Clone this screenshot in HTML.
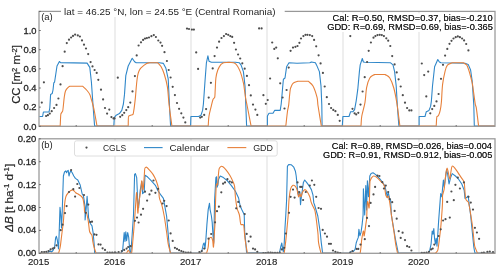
<!DOCTYPE html>
<html><head><meta charset="utf-8"><style>
html,body{margin:0;padding:0;background:#fff;width:500px;height:270px;overflow:hidden}
svg{display:block;will-change:transform}
text{font-family:"Liberation Sans",sans-serif}
</style></head><body>
<svg width="500" height="270" viewBox="0 0 500 270"><rect width="500" height="270" fill="#fff"/><line x1="115.0" y1="11.4" x2="115.0" y2="126.3" stroke="#d9d9d9" stroke-width="0.9"/><line x1="191.0" y1="11.4" x2="191.0" y2="126.3" stroke="#d9d9d9" stroke-width="0.9"/><line x1="267.0" y1="11.4" x2="267.0" y2="126.3" stroke="#d9d9d9" stroke-width="0.9"/><line x1="343.0" y1="11.4" x2="343.0" y2="126.3" stroke="#d9d9d9" stroke-width="0.9"/><line x1="419.0" y1="11.4" x2="419.0" y2="126.3" stroke="#d9d9d9" stroke-width="0.9"/><line x1="115.0" y1="138.8" x2="115.0" y2="253.3" stroke="#d9d9d9" stroke-width="0.9"/><line x1="191.0" y1="138.8" x2="191.0" y2="253.3" stroke="#d9d9d9" stroke-width="0.9"/><line x1="267.0" y1="138.8" x2="267.0" y2="253.3" stroke="#d9d9d9" stroke-width="0.9"/><line x1="343.0" y1="138.8" x2="343.0" y2="253.3" stroke="#d9d9d9" stroke-width="0.9"/><line x1="419.0" y1="138.8" x2="419.0" y2="253.3" stroke="#d9d9d9" stroke-width="0.9"/><defs><clipPath id="ca"><rect x="39.0" y="11.4" width="456.0" height="115.89999999999999"/></clipPath><clipPath id="cb"><rect x="39.0" y="138.8" width="456.0" height="115.5"/></clipPath></defs><g clip-path="url(#ca)" fill="none" stroke-width="1.1" stroke-linejoin="round"><polyline points="39.3,116.5 42.6,116.5 43.4,112.0 49.0,112.0 49.8,108.0 50.6,94.4 52.2,93.6 53.0,90.0 53.8,82.8 54.6,82.0 57.0,66.0 59.4,61.5 60.5,62.6 87.1,63.1 89.8,67.4 91.4,82.0 93.3,109.0 94.6,126.1 113.8,126.1 114.3,117.6 116.2,115.2 119.4,113.6 121.8,110.4 123.4,104.0 124.5,94.4 125.8,75.6 128.2,66.0 132.2,58.3 134.6,61.8 136.2,62.8 159.4,62.8 163.4,63.4 165.8,67.9 168.2,78.8 169.8,112.0 170.6,126.1 190.6,126.1 190.9,116.5 198.6,116.5 201.0,115.2 202.6,110.4 203.4,104.0 204.2,92.8 205.0,81.2 206.4,62.8 207.9,55.9 209.0,61.2 211.4,62.3 235.4,62.3 239.4,62.8 241.0,64.9 243.4,71.6 245.0,86.0 245.8,104.9 246.6,126.1 267.4,126.1 267.4,116.0 269.0,113.3 273.0,113.3 274.6,110.4 280.2,110.4 281.2,104.0 281.8,97.6 282.6,88.0 283.4,79.3 285.0,78.0 286.6,66.8 289.0,62.8 297.0,63.3 309.8,62.8 311.4,62.0 315.4,62.8 316.5,64.9 319.4,71.6 321.0,86.0 321.8,104.9 322.1,126.1 342.3,126.1 342.9,116.5 349.0,116.5 350.6,111.7 353.0,111.7 354.6,109.6 356.2,100.8 357.8,89.2 359.4,71.6 360.2,64.9 362.3,58.5 363.4,62.0 365.0,62.3 390.6,62.8 393.0,64.9 394.6,71.6 396.2,86.0 397.3,104.9 397.8,112.0 398.9,126.1 419.1,126.1 419.1,116.5 425.0,116.5 426.3,111.7 429.0,110.4 430.6,106.4 431.4,100.8 432.5,86.0 434.6,66.8 435.4,64.9 437.8,59.6 439.4,62.0 441.0,62.8 465.0,63.3 468.2,64.4 470.6,70.0 472.2,81.2 473.8,104.9 474.3,126.1 495.0,126.1" stroke="#2f87c9"/><path d="M39.3,126.1 L60.2,126.1 C60.44,122.35 60.52,114.32 61.0,113.6 C61.48,112.88 62.12,111.92 62.6,111.2 C63.08,110.48 63.77,100.60 64.2,97.6 C64.63,94.60 64.83,92.72 65.5,91.0 C66.17,89.28 67.62,87.95 68.2,87.3 C68.78,86.65 69.32,86.53 69.8,86.2 L82.6,86.2 C83.80,87.34 85.40,88.63 86.6,90.0 C87.80,91.37 89.00,92.80 89.8,94.4 C90.60,96.00 90.83,97.67 91.4,99.6 C91.97,101.53 92.68,103.93 93.2,106.0 C93.72,108.07 93.99,109.29 94.5,112.0 C95.01,114.71 96.25,121.87 97.0,126.1 L128.2,126.1 C128.35,123.07 128.13,116.24 128.7,116.0 C129.27,115.76 129.88,115.47 130.6,115.2 C131.32,114.93 132.47,115.20 133.0,114.4 C133.53,113.60 133.56,111.60 133.8,110.4 C134.04,109.20 135.00,101.33 135.4,97.6 C135.80,93.87 135.93,90.93 136.2,88.0 C136.47,85.07 136.73,82.20 137.0,80.0 C137.27,77.80 137.47,76.30 137.8,74.8 C138.13,73.30 138.47,72.15 139.0,71.0 C139.53,69.85 139.83,69.07 141.0,67.9 C142.17,66.73 145.33,64.13 146.6,63.4 C147.87,62.67 148.84,62.98 149.8,62.8 L157.8,62.8 C158.76,63.94 159.93,64.73 161.0,66.6 C162.07,68.47 163.13,70.63 164.2,74.0 C165.27,77.37 166.60,81.80 167.4,86.8 C168.20,91.80 168.25,97.45 169.0,104.0 C169.75,110.55 171.03,119.47 171.9,126.1 L208.2,126.1 C208.44,123.07 208.47,119.42 209.0,116.0 C209.53,112.58 210.73,108.35 211.4,105.6 C212.07,102.85 212.58,100.54 213.0,99.5 C213.42,98.46 214.12,98.17 214.6,97.6 C215.08,97.03 214.98,93.27 215.2,90.0 C215.42,86.73 215.47,81.33 215.9,78.0 C216.33,74.67 216.95,72.27 217.8,70.0 C218.65,67.73 220.20,65.42 221.0,64.4 C221.80,63.38 222.68,63.28 223.4,62.8 L229.0,62.3 C230.92,62.69 233.53,62.05 235.4,63.6 C237.27,65.15 238.87,68.40 240.2,71.6 C241.53,74.80 242.84,80.50 243.4,82.8 C243.96,85.10 243.85,85.66 244.2,88.0 C244.55,90.34 245.27,95.83 245.8,99.0 C246.33,102.17 246.70,103.40 247.4,107.0 C248.10,110.60 249.99,120.37 251.1,126.1 L285.8,126.1 C286.28,121.87 286.96,115.22 287.4,112.0 C287.84,108.78 288.27,108.12 288.7,104.9 C289.13,101.68 289.88,89.41 290.6,88.0 C291.32,86.59 291.80,84.43 293.0,83.3 C294.20,82.17 296.36,81.83 297.8,81.2 L308.2,81.2 C309.64,82.64 311.53,83.33 313.0,86.0 C314.47,88.67 316.21,94.22 317.0,97.2 C317.79,100.18 317.56,101.96 317.8,104.0 C318.04,106.04 320.25,119.47 321.3,126.1 L361.0,126.1 C361.24,123.07 361.13,119.95 361.8,116.0 C362.47,112.05 364.20,107.13 365.0,102.4 C365.80,97.67 365.80,91.67 366.6,87.6 C367.40,83.53 368.47,80.18 369.8,78.0 C371.13,75.82 373.16,75.55 374.6,74.5 L385.0,74.5 C386.44,75.55 388.34,75.76 389.8,78.0 C391.26,80.24 392.60,83.67 393.8,88.0 C395.00,92.33 395.98,97.65 397.0,104.0 C398.02,110.35 399.03,119.47 399.9,126.1 L436.2,126.1 C436.44,123.22 436.52,116.89 437.0,116.5 C437.48,116.11 438.17,116.02 438.6,115.2 C439.03,114.38 439.73,112.60 440.2,110.4 C440.67,108.20 441.05,105.80 441.4,102.0 C441.75,98.20 442.00,89.47 442.6,84.4 C443.20,79.33 444.25,74.58 445.0,71.6 C445.75,68.62 446.20,66.67 447.4,65.2 C448.60,63.73 450.76,63.52 452.2,62.8 L463.4,62.8 C464.36,63.43 465.80,63.97 466.6,64.9 C467.40,65.83 467.72,67.35 468.2,68.4 C468.68,69.45 471.64,80.50 472.2,82.8 C472.76,85.10 472.76,86.44 473.0,88.0 C473.24,89.56 475.16,104.21 475.4,104.9 C475.64,105.59 475.96,106.51 476.2,107.2 C476.44,107.89 477.88,120.43 478.6,126.1 L495.0,126.1" stroke="#e7803a"/></g><g fill="#4d4d4d"><circle cx="41.8" cy="102.6" r="1.1"/><circle cx="43.9" cy="82.3" r="1.1"/><circle cx="46.1" cy="116.0" r="1.1"/><circle cx="47.9" cy="115.2" r="1.1"/><circle cx="49.8" cy="113.6" r="1.1"/><circle cx="51.7" cy="111.2" r="1.1"/><circle cx="54.1" cy="108.0" r="1.1"/><circle cx="56.5" cy="104.9" r="1.1"/><circle cx="58.4" cy="98.5" r="1.1"/><circle cx="60.5" cy="84.4" r="1.1"/><circle cx="62.6" cy="66.2" r="1.1"/><circle cx="64.7" cy="51.7" r="1.1"/><circle cx="66.8" cy="43.1" r="1.1"/><circle cx="69.0" cy="39.7" r="1.1"/><circle cx="71.1" cy="37.5" r="1.1"/><circle cx="73.0" cy="35.9" r="1.1"/><circle cx="75.1" cy="34.6" r="1.1"/><circle cx="77.8" cy="35.4" r="1.1"/><circle cx="79.9" cy="36.5" r="1.1"/><circle cx="82.0" cy="40.4" r="1.1"/><circle cx="84.0" cy="44.7" r="1.1"/><circle cx="86.0" cy="48.5" r="1.1"/><circle cx="88.2" cy="54.1" r="1.1"/><circle cx="90.6" cy="62.1" r="1.1"/><circle cx="92.5" cy="66.4" r="1.1"/><circle cx="94.6" cy="70.0" r="1.1"/><circle cx="96.7" cy="72.9" r="1.1"/><circle cx="98.3" cy="79.8" r="1.1"/><circle cx="101.0" cy="89.7" r="1.1"/><circle cx="103.1" cy="99.4" r="1.1"/><circle cx="105.0" cy="108.0" r="1.1"/><circle cx="107.1" cy="113.6" r="1.1"/><circle cx="109.3" cy="109.6" r="1.1"/><circle cx="111.4" cy="117.1" r="1.1"/><circle cx="113.5" cy="118.4" r="1.1"/><circle cx="114.6" cy="118.4" r="1.1"/><circle cx="117.8" cy="77.7" r="1.1"/><circle cx="120.2" cy="116.8" r="1.1"/><circle cx="122.3" cy="115.2" r="1.1"/><circle cx="124.2" cy="112.8" r="1.1"/><circle cx="126.3" cy="110.1" r="1.1"/><circle cx="128.2" cy="107.2" r="1.1"/><circle cx="130.3" cy="102.6" r="1.1"/><circle cx="132.5" cy="91.4" r="1.1"/><circle cx="134.9" cy="76.1" r="1.1"/><circle cx="136.7" cy="55.4" r="1.1"/><circle cx="138.6" cy="45.5" r="1.1"/><circle cx="141.0" cy="42.3" r="1.1"/><circle cx="143.1" cy="39.9" r="1.1"/><circle cx="145.0" cy="38.6" r="1.1"/><circle cx="146.9" cy="38.1" r="1.1"/><circle cx="149.0" cy="37.5" r="1.1"/><circle cx="151.4" cy="36.2" r="1.1"/><circle cx="153.8" cy="35.1" r="1.1"/><circle cx="155.9" cy="37.0" r="1.1"/><circle cx="158.3" cy="40.5" r="1.1"/><circle cx="160.5" cy="42.6" r="1.1"/><circle cx="162.1" cy="45.8" r="1.1"/><circle cx="164.5" cy="52.2" r="1.1"/><circle cx="166.9" cy="61.0" r="1.1"/><circle cx="168.7" cy="70.0" r="1.1"/><circle cx="170.6" cy="77.5" r="1.1"/><circle cx="172.7" cy="86.8" r="1.1"/><circle cx="174.9" cy="95.1" r="1.1"/><circle cx="177.0" cy="103.0" r="1.1"/><circle cx="179.1" cy="108.8" r="1.1"/><circle cx="181.3" cy="113.3" r="1.1"/><circle cx="183.4" cy="117.6" r="1.1"/><circle cx="185.3" cy="122.4" r="1.1"/><circle cx="187.0" cy="28.6" r="1.1"/><circle cx="189.0" cy="29.0" r="1.1"/><circle cx="191.9" cy="29.6" r="1.1"/><circle cx="193.9" cy="29.6" r="1.1"/><circle cx="196.2" cy="52.4" r="1.1"/><circle cx="198.1" cy="68.9" r="1.1"/><circle cx="200.2" cy="117.6" r="1.1"/><circle cx="201.8" cy="116.8" r="1.1"/><circle cx="204.2" cy="114.9" r="1.1"/><circle cx="206.1" cy="109.1" r="1.1"/><circle cx="208.7" cy="97.6" r="1.1"/><circle cx="210.9" cy="82.8" r="1.1"/><circle cx="212.7" cy="68.4" r="1.1"/><circle cx="214.6" cy="56.1" r="1.1"/><circle cx="217.0" cy="47.6" r="1.1"/><circle cx="219.1" cy="41.7" r="1.1"/><circle cx="221.5" cy="38.0" r="1.1"/><circle cx="223.9" cy="36.1" r="1.1"/><circle cx="226.1" cy="34.0" r="1.1"/><circle cx="228.2" cy="34.8" r="1.1"/><circle cx="230.3" cy="36.1" r="1.1"/><circle cx="232.2" cy="36.9" r="1.1"/><circle cx="234.1" cy="42.8" r="1.1"/><circle cx="235.9" cy="49.5" r="1.1"/><circle cx="238.1" cy="54.5" r="1.1"/><circle cx="240.2" cy="58.5" r="1.1"/><circle cx="242.3" cy="63.3" r="1.1"/><circle cx="244.7" cy="68.7" r="1.1"/><circle cx="246.9" cy="75.9" r="1.1"/><circle cx="249.0" cy="85.2" r="1.1"/><circle cx="250.8" cy="95.4" r="1.1"/><circle cx="253.0" cy="104.6" r="1.1"/><circle cx="255.4" cy="109.6" r="1.1"/><circle cx="257.3" cy="114.9" r="1.1"/><circle cx="259.1" cy="28.4" r="1.1"/><circle cx="261.6" cy="28.4" r="1.1"/><circle cx="263.4" cy="95.2" r="1.1"/><circle cx="265.8" cy="103.8" r="1.1"/><circle cx="267.7" cy="100.0" r="1.1"/><circle cx="270.1" cy="78.5" r="1.1"/><circle cx="272.2" cy="42.5" r="1.1"/><circle cx="274.3" cy="48.9" r="1.1"/><circle cx="276.2" cy="47.6" r="1.1"/><circle cx="277.8" cy="58.3" r="1.1"/><circle cx="280.2" cy="83.3" r="1.1"/><circle cx="282.6" cy="97.5" r="1.1"/><circle cx="284.5" cy="108.5" r="1.1"/><circle cx="286.6" cy="90.0" r="1.1"/><circle cx="288.7" cy="67.6" r="1.1"/><circle cx="290.6" cy="50.8" r="1.1"/><circle cx="293.0" cy="47.6" r="1.1"/><circle cx="295.4" cy="46.8" r="1.1"/><circle cx="297.5" cy="46.0" r="1.1"/><circle cx="299.4" cy="42.8" r="1.1"/><circle cx="301.0" cy="38.5" r="1.1"/><circle cx="303.4" cy="36.1" r="1.1"/><circle cx="305.5" cy="34.8" r="1.1"/><circle cx="307.4" cy="34.8" r="1.1"/><circle cx="309.8" cy="35.1" r="1.1"/><circle cx="312.2" cy="36.1" r="1.1"/><circle cx="314.1" cy="39.9" r="1.1"/><circle cx="316.2" cy="46.3" r="1.1"/><circle cx="318.6" cy="55.3" r="1.1"/><circle cx="320.6" cy="63.4" r="1.1"/><circle cx="322.9" cy="72.9" r="1.1"/><circle cx="324.7" cy="86.5" r="1.1"/><circle cx="326.8" cy="97.2" r="1.1"/><circle cx="329.0" cy="104.0" r="1.1"/><circle cx="331.1" cy="108.0" r="1.1"/><circle cx="333.3" cy="109.9" r="1.1"/><circle cx="335.4" cy="111.2" r="1.1"/><circle cx="337.8" cy="114.9" r="1.1"/><circle cx="339.7" cy="120.8" r="1.1"/><circle cx="350.3" cy="36.1" r="1.1"/><circle cx="352.5" cy="108.8" r="1.1"/><circle cx="354.6" cy="113.3" r="1.1"/><circle cx="356.2" cy="114.4" r="1.1"/><circle cx="358.3" cy="112.8" r="1.1"/><circle cx="360.5" cy="104.6" r="1.1"/><circle cx="362.6" cy="91.5" r="1.1"/><circle cx="364.7" cy="77.2" r="1.1"/><circle cx="367.1" cy="62.0" r="1.1"/><circle cx="368.7" cy="50.8" r="1.1"/><circle cx="370.9" cy="42.5" r="1.1"/><circle cx="373.5" cy="37.7" r="1.1"/><circle cx="375.4" cy="36.1" r="1.1"/><circle cx="377.5" cy="35.1" r="1.1"/><circle cx="379.7" cy="34.8" r="1.1"/><circle cx="381.8" cy="35.1" r="1.1"/><circle cx="383.9" cy="36.1" r="1.1"/><circle cx="386.3" cy="38.3" r="1.1"/><circle cx="388.2" cy="40.7" r="1.1"/><circle cx="390.3" cy="46.0" r="1.1"/><circle cx="392.2" cy="56.1" r="1.1"/><circle cx="394.6" cy="64.4" r="1.1"/><circle cx="396.7" cy="72.4" r="1.1"/><circle cx="398.6" cy="79.3" r="1.1"/><circle cx="400.7" cy="86.5" r="1.1"/><circle cx="402.8" cy="95.2" r="1.1"/><circle cx="405.0" cy="102.7" r="1.1"/><circle cx="407.1" cy="108.0" r="1.1"/><circle cx="409.3" cy="110.4" r="1.1"/><circle cx="411.4" cy="110.4" r="1.1"/><circle cx="421.8" cy="63.5" r="1.1"/><circle cx="424.2" cy="75.1" r="1.1"/><circle cx="426.3" cy="96.4" r="1.1"/><circle cx="428.2" cy="71.6" r="1.1"/><circle cx="430.3" cy="113.3" r="1.1"/><circle cx="432.2" cy="109.1" r="1.1"/><circle cx="434.3" cy="105.9" r="1.1"/><circle cx="436.5" cy="101.4" r="1.1"/><circle cx="438.6" cy="94.0" r="1.1"/><circle cx="441.0" cy="78.8" r="1.1"/><circle cx="443.0" cy="64.8" r="1.1"/><circle cx="445.1" cy="55.6" r="1.1"/><circle cx="447.3" cy="48.9" r="1.1"/><circle cx="449.5" cy="43.8" r="1.1"/><circle cx="451.5" cy="40.8" r="1.1"/><circle cx="453.5" cy="38.5" r="1.1"/><circle cx="455.7" cy="37.2" r="1.1"/><circle cx="457.8" cy="36.4" r="1.1"/><circle cx="459.9" cy="37.2" r="1.1"/><circle cx="462.1" cy="38.5" r="1.1"/><circle cx="464.1" cy="40.4" r="1.1"/><circle cx="466.2" cy="44.0" r="1.1"/><circle cx="468.4" cy="50.4" r="1.1"/></g><g clip-path="url(#cb)" fill="none" stroke-width="1.1" stroke-linejoin="round"><polyline points="39.3,253.3 47.5,253.0 49.8,251.0 51.5,252.0 53.0,250.5 54.6,247.0 55.6,238.0 56.4,236.3 57.3,240.0 58.5,249.0 59.2,232.0 60.0,207.3 60.8,215.0 61.5,228.0 62.2,212.0 62.6,200.0 63.4,176.0 64.5,172.0 65.8,170.9 66.6,172.8 67.4,170.9 68.2,170.4 69.0,176.0 69.8,172.8 70.9,170.9 72.2,172.8 73.8,176.0 75.4,178.4 77.8,180.0 80.2,185.0 82.2,194.0 83.4,195.6 84.3,201.3 85.1,207.0 85.1,220.0 85.9,211.5 86.3,207.0 87.1,196.4 87.9,207.0 88.6,218.0 90.4,223.7 92.0,225.8 93.2,233.1 93.6,238.0 94.4,247.0 94.6,253.1 121.0,253.1 122.6,251.0 124.2,232.6 125.0,241.4 125.8,231.8 126.6,240.6 127.7,232.6 128.7,237.4 129.8,251.0 130.8,253.0 132.2,234.2 133.5,215.0 134.6,174.4 135.4,173.6 136.7,177.6 137.8,202.9 138.6,208.0 140.2,190.4 141.8,181.6 142.6,193.6 144.2,192.0 145.0,175.2 147.4,176.8 151.4,180.8 155.4,185.3 157.8,190.4 161.0,195.2 163.4,198.4 164.2,202.9 166.6,216.0 169.0,242.9 170.3,253.1 200.2,253.1 201.8,251.0 203.4,243.8 204.2,243.0 205.0,248.6 205.8,240.6 206.9,224.6 208.2,209.6 209.5,203.2 210.1,209.6 211.4,216.0 212.2,222.4 213.0,235.2 213.8,242.9 214.6,200.0 215.9,177.6 216.5,176.8 217.0,187.2 217.8,185.6 218.6,179.2 220.2,176.0 223.4,177.6 227.4,180.8 231.4,185.6 235.4,191.2 238.6,198.0 240.2,206.0 242.0,210.0 244.2,214.4 244.7,232.0 245.8,242.9 246.6,252.6 279.4,253.1 280.7,247.0 281.8,243.0 282.6,248.6 283.4,251.8 284.2,243.8 285.0,227.8 285.8,215.0 286.6,200.0 287.4,166.4 288.7,164.5 291.4,164.8 293.8,167.2 295.4,171.2 296.2,176.0 297.0,184.0 297.8,192.8 298.6,195.2 299.9,192.0 300.5,204.8 301.0,200.0 302.1,192.0 303.4,182.4 304.7,180.0 306.6,182.4 309.0,185.6 311.4,189.6 313.0,195.2 313.8,202.9 314.6,205.0 317.8,216.0 320.2,232.0 321.3,242.9 322.6,253.1 349.0,253.1 350.6,251.8 353.0,251.8 355.1,249.4 356.2,243.0 357.0,240.6 358.3,237.4 358.9,229.4 359.9,235.8 361.0,232.6 362.1,224.6 363.1,215.0 363.4,188.8 364.7,215.0 365.8,185.6 366.6,210.0 367.4,180.8 368.5,196.6 369.8,176.0 371.1,173.6 373.0,172.8 375.4,174.4 379.4,178.4 382.6,182.4 385.0,186.4 386.6,193.6 387.4,197.6 388.2,192.0 389.8,199.2 390.6,200.0 391.4,215.0 395.4,239.0 398.3,253.1 428.2,253.1 429.8,250.2 431.1,243.8 432.2,231.0 433.0,234.2 433.8,228.6 434.6,239.0 435.4,243.8 436.2,238.2 437.0,246.2 437.8,234.2 438.6,221.4 440.2,200.0 440.7,193.6 441.8,196.8 442.6,188.0 443.4,180.0 444.2,187.2 445.5,177.6 446.6,169.6 447.7,174.4 449.0,184.0 450.6,177.6 452.2,173.6 455.4,176.0 458.6,179.2 461.8,184.0 464.2,190.4 465.0,198.4 466.6,197.6 468.2,196.0 469.0,202.9 470.6,215.0 473.8,247.0 474.9,253.1 495.0,253.1" stroke="#2f87c9"/><path d="M39.3,253.3 L58.6,253.3 C59.08,251.41 59.72,249.88 60.2,247.0 C60.68,244.12 61.27,238.47 61.8,234.2 C62.33,229.93 62.95,226.27 63.4,221.4 C63.85,216.53 64.14,208.72 64.5,205.0 C64.86,201.28 65.19,198.81 65.8,196.8 C66.41,194.79 67.54,193.70 68.2,192.8 C68.86,191.90 69.22,191.58 70.0,191.1 C70.78,190.62 71.95,189.63 72.9,189.9 C73.85,190.17 74.83,192.02 75.7,192.7 C76.57,193.38 77.15,193.38 78.1,194.0 C79.05,194.62 80.58,195.58 81.4,196.4 C82.22,197.22 82.65,197.61 83.0,198.9 C83.35,200.19 84.02,204.77 84.3,207.0 C84.58,209.23 84.22,212.30 84.7,212.3 C85.18,212.30 85.82,212.30 86.3,212.3 C86.78,212.30 87.75,218.10 88.3,221.3 C88.85,224.50 89.06,229.43 89.6,231.5 C90.14,233.57 91.47,233.97 92.0,235.6 C92.53,237.23 92.47,239.40 92.8,241.3 C93.13,243.20 93.43,245.00 94.0,247.0 C94.57,249.00 95.54,251.41 96.2,253.3 L126.6,253.3 C127.08,252.37 127.67,250.32 128.2,250.2 C128.73,250.08 129.27,252.08 129.8,252.6 C130.33,253.12 130.92,253.09 131.4,253.3 C131.88,253.51 132.47,244.58 133.0,239.0 C133.53,233.42 134.17,225.47 134.6,219.8 C135.03,214.13 135.25,209.50 135.6,205.0 C135.95,200.50 136.33,191.50 136.7,192.8 C137.07,194.10 137.48,210.80 137.8,212.8 C138.12,214.80 138.23,207.77 138.6,204.8 C138.97,201.83 139.60,197.67 140.0,195.0 C140.40,192.33 140.70,191.17 141.0,188.8 C141.30,186.43 141.45,180.67 141.8,180.8 C142.15,180.93 142.70,190.27 143.1,189.6 C143.50,188.93 143.88,180.40 144.2,176.8 C144.52,173.20 144.52,168.24 145.0,168.0 C145.48,167.76 145.93,166.93 146.6,167.2 C147.27,167.47 147.99,168.46 149.0,169.6 C150.01,170.74 151.80,172.53 153.0,174.4 C154.20,176.27 155.27,178.40 156.2,180.8 C157.13,183.20 158.07,185.93 158.6,188.8 C159.13,191.67 158.87,195.33 159.4,198.0 C159.93,200.67 161.00,201.80 161.8,204.8 C162.60,207.80 163.40,211.47 164.2,216.0 C165.00,220.53 165.93,227.37 166.6,232.0 C167.27,236.63 167.53,240.25 168.2,243.8 C168.87,247.35 169.88,250.45 170.6,253.3 L206.6,253.3 C207.08,251.41 207.80,249.38 208.2,247.0 C208.60,244.62 208.59,240.23 209.0,239.0 C209.41,237.77 210.78,237.13 211.4,237.4 C212.02,237.67 212.37,239.08 212.7,240.6 C213.03,242.12 213.23,248.07 213.5,247.0 C213.77,245.93 214.03,238.47 214.3,234.2 C214.57,229.93 214.88,227.10 215.1,221.4 C215.32,215.70 215.37,206.23 215.6,200.0 C215.83,193.77 216.20,183.76 216.5,184.0 C216.80,184.24 217.20,184.56 217.5,184.8 C217.80,185.04 218.03,178.67 218.3,176.0 C218.57,173.33 218.73,170.13 219.1,168.8 C219.47,167.47 220.37,166.75 221.0,166.4 C221.63,166.05 222.18,166.22 222.9,166.7 C223.62,167.18 224.65,168.18 225.8,169.6 C226.95,171.02 228.60,173.20 229.8,175.2 C231.00,177.20 232.20,179.73 233.0,181.6 C233.80,183.47 234.24,184.15 234.6,186.4 C234.96,188.65 235.00,193.20 235.4,196.8 C235.80,200.40 236.33,204.97 237.0,208.0 C237.67,211.03 238.73,212.23 239.4,215.0 C240.07,217.77 240.28,224.60 241.0,224.6 C241.72,224.60 242.68,224.60 243.4,224.6 C244.12,224.60 244.33,234.22 245.0,239.0 C245.67,243.78 246.68,249.01 247.4,253.3 L284.2,253.3 C284.68,249.49 285.27,245.48 285.8,240.6 C286.33,235.72 287.02,228.05 287.4,224.0 C287.78,219.95 287.93,219.00 288.2,215.0 C288.47,211.00 288.60,204.37 289.0,200.0 C289.40,195.63 290.10,190.64 290.6,188.8 C291.10,186.96 292.20,185.70 293.0,185.3 C293.80,184.90 294.73,185.68 295.4,186.4 C296.07,187.12 296.53,188.06 297.0,189.6 C297.47,191.14 298.12,196.13 298.6,196.8 C299.08,197.47 299.50,193.60 299.9,193.6 C300.30,193.60 300.55,197.07 301.0,196.8 C301.45,196.53 301.93,193.20 302.6,192.0 C303.27,190.80 304.20,189.60 305.0,189.6 C305.80,189.60 306.60,190.80 307.4,192.0 C308.20,193.20 309.13,194.98 309.8,196.8 C310.47,198.62 310.60,200.77 311.4,202.9 C312.20,205.03 313.64,207.59 314.6,209.6 C315.56,211.61 317.21,227.12 317.8,232.0 C318.39,236.88 318.07,239.35 318.6,242.9 C319.13,246.45 320.28,250.18 321.0,253.3 L360.2,253.3 C360.44,251.41 360.73,249.38 361.0,247.0 C361.27,244.62 361.40,241.67 361.8,239.0 C362.20,236.33 363.00,231.53 363.4,231.0 C363.80,230.47 363.80,236.87 364.2,235.8 C364.60,234.73 365.45,227.03 365.8,224.6 C366.15,222.17 366.36,220.82 366.6,219.2 C366.84,217.58 367.00,203.87 367.4,202.0 C367.80,200.13 368.52,206.20 369.0,208.0 C369.48,209.80 369.62,181.76 370.1,180.8 C370.58,179.84 371.08,178.40 371.7,177.6 C372.32,176.80 372.92,176.00 373.8,176.0 C374.68,176.00 375.80,176.67 377.0,177.6 C378.20,178.53 379.80,180.27 381.0,181.6 C382.20,182.93 383.43,183.43 384.2,185.6 C384.97,187.77 385.41,194.48 385.8,195.2 C386.19,195.92 386.70,197.47 387.1,197.6 C387.50,197.73 387.87,196.48 388.2,196.0 C388.53,195.52 389.27,199.76 389.8,202.9 C390.33,206.04 390.70,210.15 391.4,215.0 C392.10,219.85 393.27,227.00 394.0,232.0 C394.73,237.00 395.20,241.45 395.8,245.0 C396.40,248.55 397.06,250.81 397.6,253.3 L435.4,253.3 C436.12,252.37 437.32,251.90 437.8,250.2 C438.28,248.50 438.87,243.27 439.4,239.0 C439.93,234.73 440.47,231.10 441.0,224.6 C441.53,218.10 442.60,201.44 442.6,200.0 C442.60,198.56 442.33,197.07 442.6,195.2 C442.87,193.33 443.76,191.74 444.2,188.8 C444.64,185.86 445.80,173.20 446.1,172.0 C446.40,170.80 446.75,168.00 447.1,168.0 C447.45,168.00 447.76,170.19 448.2,172.0 C448.64,173.81 449.35,179.20 449.8,179.2 C450.25,179.20 450.50,174.18 450.9,172.0 C451.30,169.82 451.45,166.63 452.2,166.1 C452.95,165.57 454.33,167.55 455.4,168.8 C456.47,170.05 457.53,172.00 458.6,173.6 C459.67,175.20 460.87,176.93 461.8,178.4 C462.73,179.87 463.72,180.36 464.2,182.4 C464.68,184.44 464.73,189.20 465.0,192.0 C465.27,194.80 465.29,197.62 465.8,199.2 C466.31,200.78 467.48,201.16 468.2,202.0 C468.92,202.84 471.08,216.50 472.2,224.0 C473.32,231.50 474.12,245.11 474.9,247.0 C475.68,248.89 476.72,251.41 477.5,253.3 L495.0,253.3" stroke="#e7803a"/></g><g fill="#4d4d4d"><circle cx="41.8" cy="252.1" r="1.1"/><circle cx="44.2" cy="252.1" r="1.1"/><circle cx="46.3" cy="251.8" r="1.1"/><circle cx="48.5" cy="251.0" r="1.1"/><circle cx="50.6" cy="249.4" r="1.1"/><circle cx="52.7" cy="248.6" r="1.1"/><circle cx="54.3" cy="247.8" r="1.1"/><circle cx="56.5" cy="245.4" r="1.1"/><circle cx="60.7" cy="230.2" r="1.1"/><circle cx="62.6" cy="224.7" r="1.1"/><circle cx="65.0" cy="213.1" r="1.1"/><circle cx="66.6" cy="206.1" r="1.1"/><circle cx="69.0" cy="192.0" r="1.1"/><circle cx="71.1" cy="170.1" r="1.1"/><circle cx="73.3" cy="189.2" r="1.1"/><circle cx="75.1" cy="196.6" r="1.1"/><circle cx="77.3" cy="184.0" r="1.1"/><circle cx="79.4" cy="188.0" r="1.1"/><circle cx="84.0" cy="195.0" r="1.1"/><circle cx="88.3" cy="204.6" r="1.1"/><circle cx="85.8" cy="212.8" r="1.1"/><circle cx="90.4" cy="222.1" r="1.1"/><circle cx="92.0" cy="221.7" r="1.1"/><circle cx="94.4" cy="234.4" r="1.1"/><circle cx="96.5" cy="234.8" r="1.1"/><circle cx="98.5" cy="244.4" r="1.1"/><circle cx="100.6" cy="244.6" r="1.1"/><circle cx="102.6" cy="248.3" r="1.1"/><circle cx="105.0" cy="249.9" r="1.1"/><circle cx="107.4" cy="252.6" r="1.1"/><circle cx="109.8" cy="252.6" r="1.1"/><circle cx="112.2" cy="252.6" r="1.1"/><circle cx="114.6" cy="252.6" r="1.1"/><circle cx="115.4" cy="252.6" r="1.1"/><circle cx="118.6" cy="252.1" r="1.1"/><circle cx="121.8" cy="251.0" r="1.1"/><circle cx="124.2" cy="249.9" r="1.1"/><circle cx="126.6" cy="248.6" r="1.1"/><circle cx="128.2" cy="247.0" r="1.1"/><circle cx="130.6" cy="246.2" r="1.1"/><circle cx="134.9" cy="220.8" r="1.1"/><circle cx="137.0" cy="217.6" r="1.1"/><circle cx="138.6" cy="222.5" r="1.1"/><circle cx="141.0" cy="214.7" r="1.1"/><circle cx="143.1" cy="208.8" r="1.1"/><circle cx="145.0" cy="191.7" r="1.1"/><circle cx="147.1" cy="200.6" r="1.1"/><circle cx="149.5" cy="194.4" r="1.1"/><circle cx="151.4" cy="190.7" r="1.1"/><circle cx="153.5" cy="180.5" r="1.1"/><circle cx="155.4" cy="192.8" r="1.1"/><circle cx="158.1" cy="188.8" r="1.1"/><circle cx="162.6" cy="203.5" r="1.1"/><circle cx="164.2" cy="200.8" r="1.1"/><circle cx="166.6" cy="206.1" r="1.1"/><circle cx="168.7" cy="220.5" r="1.1"/><circle cx="170.6" cy="233.4" r="1.1"/><circle cx="172.7" cy="240.9" r="1.1"/><circle cx="174.9" cy="247.8" r="1.1"/><circle cx="177.0" cy="248.9" r="1.1"/><circle cx="179.1" cy="250.2" r="1.1"/><circle cx="181.3" cy="251.0" r="1.1"/><circle cx="183.4" cy="251.8" r="1.1"/><circle cx="185.8" cy="252.6" r="1.1"/><circle cx="188.2" cy="252.6" r="1.1"/><circle cx="190.6" cy="252.6" r="1.1"/><circle cx="199.4" cy="252.1" r="1.1"/><circle cx="201.8" cy="251.0" r="1.1"/><circle cx="204.2" cy="248.6" r="1.1"/><circle cx="208.5" cy="238.7" r="1.1"/><circle cx="211.2" cy="234.0" r="1.1"/><circle cx="215.0" cy="222.3" r="1.1"/><circle cx="217.0" cy="211.2" r="1.1"/><circle cx="218.9" cy="206.7" r="1.1"/><circle cx="221.3" cy="192.3" r="1.1"/><circle cx="223.1" cy="183.7" r="1.1"/><circle cx="225.0" cy="182.4" r="1.1"/><circle cx="227.4" cy="179.2" r="1.1"/><circle cx="229.8" cy="181.6" r="1.1"/><circle cx="231.9" cy="182.4" r="1.1"/><circle cx="236.2" cy="208.3" r="1.1"/><circle cx="238.3" cy="201.9" r="1.1"/><circle cx="240.2" cy="206.4" r="1.1"/><circle cx="244.7" cy="214.1" r="1.1"/><circle cx="246.7" cy="233.9" r="1.1"/><circle cx="248.7" cy="241.3" r="1.1"/><circle cx="250.6" cy="236.7" r="1.1"/><circle cx="253.0" cy="248.6" r="1.1"/><circle cx="255.1" cy="249.4" r="1.1"/><circle cx="257.3" cy="251.8" r="1.1"/><circle cx="263.4" cy="253.0" r="1.1"/><circle cx="265.8" cy="253.0" r="1.1"/><circle cx="268.2" cy="252.6" r="1.1"/><circle cx="270.6" cy="252.6" r="1.1"/><circle cx="272.6" cy="252.9" r="1.1"/><circle cx="275.0" cy="252.9" r="1.1"/><circle cx="277.4" cy="252.9" r="1.1"/><circle cx="279.8" cy="252.6" r="1.1"/><circle cx="281.8" cy="249.4" r="1.1"/><circle cx="284.2" cy="247.8" r="1.1"/><circle cx="285.8" cy="233.5" r="1.1"/><circle cx="289.0" cy="212.8" r="1.1"/><circle cx="290.6" cy="196.8" r="1.1"/><circle cx="293.0" cy="189.6" r="1.1"/><circle cx="294.6" cy="197.6" r="1.1"/><circle cx="297.5" cy="182.4" r="1.1"/><circle cx="299.1" cy="192.0" r="1.1"/><circle cx="300.2" cy="186.9" r="1.1"/><circle cx="301.8" cy="186.9" r="1.1"/><circle cx="303.1" cy="200.0" r="1.1"/><circle cx="305.8" cy="192.0" r="1.1"/><circle cx="309.8" cy="185.6" r="1.1"/><circle cx="311.9" cy="180.5" r="1.1"/><circle cx="314.3" cy="184.8" r="1.1"/><circle cx="316.2" cy="196.8" r="1.1"/><circle cx="318.6" cy="208.0" r="1.1"/><circle cx="321.0" cy="208.8" r="1.1"/><circle cx="322.7" cy="229.9" r="1.1"/><circle cx="324.9" cy="233.5" r="1.1"/><circle cx="327.0" cy="236.7" r="1.1"/><circle cx="329.0" cy="243.8" r="1.1"/><circle cx="330.9" cy="243.8" r="1.1"/><circle cx="333.0" cy="250.5" r="1.1"/><circle cx="335.4" cy="251.8" r="1.1"/><circle cx="337.8" cy="252.6" r="1.1"/><circle cx="340.2" cy="253.0" r="1.1"/><circle cx="350.3" cy="252.6" r="1.1"/><circle cx="352.5" cy="251.0" r="1.1"/><circle cx="356.7" cy="248.9" r="1.1"/><circle cx="358.3" cy="248.9" r="1.1"/><circle cx="360.5" cy="244.6" r="1.1"/><circle cx="364.8" cy="239.2" r="1.1"/><circle cx="367.0" cy="217.9" r="1.1"/><circle cx="369.0" cy="226.1" r="1.1"/><circle cx="370.6" cy="202.9" r="1.1"/><circle cx="373.5" cy="194.4" r="1.1"/><circle cx="375.1" cy="186.9" r="1.1"/><circle cx="377.5" cy="175.7" r="1.1"/><circle cx="379.4" cy="176.0" r="1.1"/><circle cx="382.3" cy="182.1" r="1.1"/><circle cx="383.9" cy="188.5" r="1.1"/><circle cx="385.8" cy="185.6" r="1.1"/><circle cx="388.2" cy="192.0" r="1.1"/><circle cx="389.8" cy="199.2" r="1.1"/><circle cx="392.2" cy="202.2" r="1.1"/><circle cx="394.6" cy="210.9" r="1.1"/><circle cx="396.7" cy="218.7" r="1.1"/><circle cx="398.7" cy="231.2" r="1.1"/><circle cx="400.7" cy="237.9" r="1.1"/><circle cx="402.6" cy="232.7" r="1.1"/><circle cx="405.0" cy="240.1" r="1.1"/><circle cx="407.1" cy="246.2" r="1.1"/><circle cx="409.3" cy="247.0" r="1.1"/><circle cx="411.4" cy="250.5" r="1.1"/><circle cx="421.8" cy="252.9" r="1.1"/><circle cx="424.2" cy="252.9" r="1.1"/><circle cx="426.6" cy="252.6" r="1.1"/><circle cx="429.0" cy="251.8" r="1.1"/><circle cx="431.1" cy="249.4" r="1.1"/><circle cx="432.7" cy="248.6" r="1.1"/><circle cx="434.3" cy="244.6" r="1.1"/><circle cx="438.6" cy="236.0" r="1.1"/><circle cx="440.7" cy="229.3" r="1.1"/><circle cx="443.1" cy="220.5" r="1.1"/><circle cx="445.5" cy="219.2" r="1.1"/><circle cx="447.2" cy="201.9" r="1.1"/><circle cx="449.8" cy="217.6" r="1.1"/><circle cx="451.4" cy="191.5" r="1.1"/><circle cx="453.8" cy="200.2" r="1.1"/><circle cx="455.4" cy="184.8" r="1.1"/><circle cx="457.8" cy="177.6" r="1.1"/><circle cx="459.9" cy="188.5" r="1.1"/><circle cx="463.9" cy="182.4" r="1.1"/><circle cx="468.5" cy="196.8" r="1.1"/><circle cx="470.8" cy="202.6" r="1.1"/><circle cx="473.0" cy="209.6" r="1.1"/><circle cx="474.9" cy="227.8" r="1.1"/><circle cx="476.9" cy="232.5" r="1.1"/><circle cx="479.1" cy="238.8" r="1.1"/><circle cx="481.8" cy="252.9" r="1.1"/><circle cx="483.9" cy="252.6" r="1.1"/><circle cx="487.4" cy="251.8" r="1.1"/><circle cx="489.8" cy="251.5" r="1.1"/><circle cx="493.0" cy="252.1" r="1.1"/></g><rect x="39.0" y="11.4" width="456.0" height="114.9" fill="none" stroke="#989898" stroke-width="1.25"/><rect x="39.0" y="138.8" width="456.0" height="114.5" fill="none" stroke="#989898" stroke-width="1.25"/><line x1="39.0" y1="126.3" x2="40.8" y2="126.3" stroke="#555555" stroke-width="0.8"/><line x1="39.0" y1="107.1" x2="40.8" y2="107.1" stroke="#555555" stroke-width="0.8"/><line x1="39.0" y1="88.0" x2="40.8" y2="88.0" stroke="#555555" stroke-width="0.8"/><line x1="39.0" y1="68.8" x2="40.8" y2="68.8" stroke="#555555" stroke-width="0.8"/><line x1="39.0" y1="49.7" x2="40.8" y2="49.7" stroke="#555555" stroke-width="0.8"/><line x1="39.0" y1="30.5" x2="40.8" y2="30.5" stroke="#555555" stroke-width="0.8"/><line x1="39.0" y1="11.4" x2="40.8" y2="11.4" stroke="#555555" stroke-width="0.8"/><line x1="39.0" y1="253.3" x2="40.8" y2="253.3" stroke="#555555" stroke-width="0.8"/><line x1="39.0" y1="230.4" x2="40.8" y2="230.4" stroke="#555555" stroke-width="0.8"/><line x1="39.0" y1="207.5" x2="40.8" y2="207.5" stroke="#555555" stroke-width="0.8"/><line x1="39.0" y1="184.6" x2="40.8" y2="184.6" stroke="#555555" stroke-width="0.8"/><line x1="39.0" y1="161.7" x2="40.8" y2="161.7" stroke="#555555" stroke-width="0.8"/><line x1="39.0" y1="138.8" x2="40.8" y2="138.8" stroke="#555555" stroke-width="0.8"/><line x1="76.2" y1="125.1" x2="76.2" y2="126.3" stroke="#555555" stroke-width="0.9"/><line x1="152.2" y1="125.1" x2="152.2" y2="126.3" stroke="#555555" stroke-width="0.9"/><line x1="228.2" y1="125.1" x2="228.2" y2="126.3" stroke="#555555" stroke-width="0.9"/><line x1="304.2" y1="125.1" x2="304.2" y2="126.3" stroke="#555555" stroke-width="0.9"/><line x1="380.2" y1="125.1" x2="380.2" y2="126.3" stroke="#555555" stroke-width="0.9"/><line x1="456.2" y1="125.1" x2="456.2" y2="126.3" stroke="#555555" stroke-width="0.9"/><line x1="76.2" y1="252.10000000000002" x2="76.2" y2="253.3" stroke="#555555" stroke-width="0.9"/><line x1="152.2" y1="252.10000000000002" x2="152.2" y2="253.3" stroke="#555555" stroke-width="0.9"/><line x1="228.2" y1="252.10000000000002" x2="228.2" y2="253.3" stroke="#555555" stroke-width="0.9"/><line x1="304.2" y1="252.10000000000002" x2="304.2" y2="253.3" stroke="#555555" stroke-width="0.9"/><line x1="380.2" y1="252.10000000000002" x2="380.2" y2="253.3" stroke="#555555" stroke-width="0.9"/><line x1="456.2" y1="252.10000000000002" x2="456.2" y2="253.3" stroke="#555555" stroke-width="0.9"/><g font-family="Liberation Sans, sans-serif"><text x="36.5" y="129.5" font-size="9.6" text-anchor="end" fill="#262626" textLength="13.0" lengthAdjust="spacingAndGlyphs" stroke="#262626" stroke-width="0.3">0.0</text><text x="36.5" y="110.3" font-size="9.6" text-anchor="end" fill="#262626" textLength="13.0" lengthAdjust="spacingAndGlyphs" stroke="#262626" stroke-width="0.3">0.2</text><text x="36.5" y="91.2" font-size="9.6" text-anchor="end" fill="#262626" textLength="13.0" lengthAdjust="spacingAndGlyphs" stroke="#262626" stroke-width="0.3">0.4</text><text x="36.5" y="72.0" font-size="9.6" text-anchor="end" fill="#262626" textLength="13.0" lengthAdjust="spacingAndGlyphs" stroke="#262626" stroke-width="0.3">0.6</text><text x="36.5" y="52.9" font-size="9.6" text-anchor="end" fill="#262626" textLength="13.0" lengthAdjust="spacingAndGlyphs" stroke="#262626" stroke-width="0.3">0.8</text><text x="36.5" y="33.8" font-size="9.6" text-anchor="end" fill="#262626" textLength="13.0" lengthAdjust="spacingAndGlyphs" stroke="#262626" stroke-width="0.3">1.0</text><text x="36.2" y="256.3" font-size="9.6" text-anchor="end" fill="#262626" textLength="18.4" lengthAdjust="spacingAndGlyphs" stroke="#262626" stroke-width="0.3">0.00</text><text x="36.2" y="233.4" font-size="9.6" text-anchor="end" fill="#262626" textLength="18.4" lengthAdjust="spacingAndGlyphs" stroke="#262626" stroke-width="0.3">0.04</text><text x="36.2" y="210.5" font-size="9.6" text-anchor="end" fill="#262626" textLength="18.4" lengthAdjust="spacingAndGlyphs" stroke="#262626" stroke-width="0.3">0.08</text><text x="36.2" y="187.6" font-size="9.6" text-anchor="end" fill="#262626" textLength="18.4" lengthAdjust="spacingAndGlyphs" stroke="#262626" stroke-width="0.3">0.12</text><text x="36.2" y="164.7" font-size="9.6" text-anchor="end" fill="#262626" textLength="18.4" lengthAdjust="spacingAndGlyphs" stroke="#262626" stroke-width="0.3">0.16</text><text x="36.2" y="141.8" font-size="9.6" text-anchor="end" fill="#262626" textLength="18.4" lengthAdjust="spacingAndGlyphs" stroke="#262626" stroke-width="0.3">0.20</text><text x="38.6" y="265.3" font-size="9.8" text-anchor="middle" fill="#262626" textLength="21.4" lengthAdjust="spacingAndGlyphs" stroke="#262626" stroke-width="0.15">2015</text><text x="114.6" y="265.3" font-size="9.8" text-anchor="middle" fill="#262626" textLength="21.4" lengthAdjust="spacingAndGlyphs" stroke="#262626" stroke-width="0.15">2016</text><text x="190.6" y="265.3" font-size="9.8" text-anchor="middle" fill="#262626" textLength="21.4" lengthAdjust="spacingAndGlyphs" stroke="#262626" stroke-width="0.15">2017</text><text x="266.6" y="265.3" font-size="9.8" text-anchor="middle" fill="#262626" textLength="21.4" lengthAdjust="spacingAndGlyphs" stroke="#262626" stroke-width="0.15">2018</text><text x="342.6" y="265.3" font-size="9.8" text-anchor="middle" fill="#262626" textLength="21.4" lengthAdjust="spacingAndGlyphs" stroke="#262626" stroke-width="0.15">2019</text><text x="418.6" y="265.3" font-size="9.8" text-anchor="middle" fill="#262626" textLength="21.4" lengthAdjust="spacingAndGlyphs" stroke="#262626" stroke-width="0.15">2020</text><rect x="61" y="5" width="223.7" height="12" fill="#fff"/><text x="64.1" y="14.6" font-size="9.6" text-anchor="start" fill="#262626" textLength="211.5" lengthAdjust="spacingAndGlyphs" stroke="none">lat = 46.25 °N, lon = 24.55 °E (Central Romania)</text><text x="41.2" y="19.9" font-size="9.4" text-anchor="start" fill="#262626" textLength="11.6" lengthAdjust="spacingAndGlyphs" stroke="none">(a)</text><text x="41.2" y="147.9" font-size="9.4" text-anchor="start" fill="#262626" textLength="11.6" lengthAdjust="spacingAndGlyphs" stroke="none">(b)</text><rect x="326" y="13.3" width="168" height="18.6" fill="#fff"/><text x="492.6" y="20.9" font-size="9.0" text-anchor="end" fill="#262626" textLength="160" lengthAdjust="spacingAndGlyphs" stroke="#fff" stroke-width="3" paint-order="stroke" stroke-linejoin="round">Cal: R=0.50, RMSD=0.37, bias=-0.210</text><text x="492.6" y="20.9" font-size="9.0" text-anchor="end" fill="#262626" textLength="160" lengthAdjust="spacingAndGlyphs" stroke="none">Cal: R=0.50, RMSD=0.37, bias=-0.210</text><text x="492.9" y="29.8" font-size="9.0" text-anchor="end" fill="#262626" textLength="165.7" lengthAdjust="spacingAndGlyphs" stroke="#fff" stroke-width="3" paint-order="stroke" stroke-linejoin="round">GDD: R=0.69, RMSD=0.69, bias=-0.365</text><text x="492.9" y="29.8" font-size="9.0" text-anchor="end" fill="#262626" textLength="165.7" lengthAdjust="spacingAndGlyphs" stroke="none">GDD: R=0.69, RMSD=0.69, bias=-0.365</text><text x="491.9" y="149.4" font-size="9.0" text-anchor="end" fill="#262626" textLength="160.1" lengthAdjust="spacingAndGlyphs" stroke="#fff" stroke-width="3" paint-order="stroke" stroke-linejoin="round">Cal: R=0.89, RMSD=0.026, bias=0.004</text><text x="491.9" y="149.4" font-size="9.0" text-anchor="end" fill="#262626" textLength="160.1" lengthAdjust="spacingAndGlyphs" stroke="none">Cal: R=0.89, RMSD=0.026, bias=0.004</text><text x="492.3" y="158.0" font-size="9.0" text-anchor="end" fill="#262626" textLength="169.3" lengthAdjust="spacingAndGlyphs" stroke="#fff" stroke-width="3" paint-order="stroke" stroke-linejoin="round">GDD: R=0.91, RMSD=0.912, bias=-0.005</text><text x="492.3" y="158.0" font-size="9.0" text-anchor="end" fill="#262626" textLength="169.3" lengthAdjust="spacingAndGlyphs" stroke="none">GDD: R=0.91, RMSD=0.912, bias=-0.005</text><rect x="74.5" y="140.8" width="202.7" height="15.2" rx="2" fill="#fff" stroke="#d6d6d6" stroke-width="0.8"/><circle cx="86.5" cy="147.6" r="1.1" fill="#4d4d4d"/><text x="103" y="151" font-size="9.6" text-anchor="start" fill="#262626" textLength="23.1" lengthAdjust="spacingAndGlyphs" stroke="none">CGLS</text><line x1="144" y1="147.6" x2="162.6" y2="147.6" stroke="#2f87c9" stroke-width="1.1"/><text x="169.4" y="151" font-size="9.6" text-anchor="start" fill="#262626" textLength="40" lengthAdjust="spacingAndGlyphs" stroke="none">Calendar</text><line x1="227.4" y1="147.6" x2="246.3" y2="147.6" stroke="#e7803a" stroke-width="1.1"/><text x="253.2" y="151" font-size="9.6" text-anchor="start" fill="#262626" textLength="19.8" lengthAdjust="spacingAndGlyphs" stroke="none">GDD</text><text transform="translate(20.0,74.5) rotate(-90)" font-size="10.4" text-anchor="middle" fill="#262626" stroke="#262626" stroke-width="0.2" textLength="58.7" lengthAdjust="spacingAndGlyphs">CC [m<tspan font-size="7" dy="-3.5">2</tspan><tspan dy="3.5"> m</tspan><tspan font-size="7" dy="-3.5">-2</tspan><tspan dy="3.5">]</tspan></text><text transform="translate(12.9,197.8) rotate(-90)" font-size="10.4" text-anchor="middle" fill="#262626" stroke="#262626" stroke-width="0.2" textLength="67.8" lengthAdjust="spacingAndGlyphs"><tspan font-style="italic">ΔB</tspan> [t ha<tspan font-size="7" dy="-3.5">-1</tspan><tspan dy="3.5"> d</tspan><tspan font-size="7" dy="-3.5">-1</tspan><tspan dy="3.5">]</tspan></text></g></svg>
</body></html>
